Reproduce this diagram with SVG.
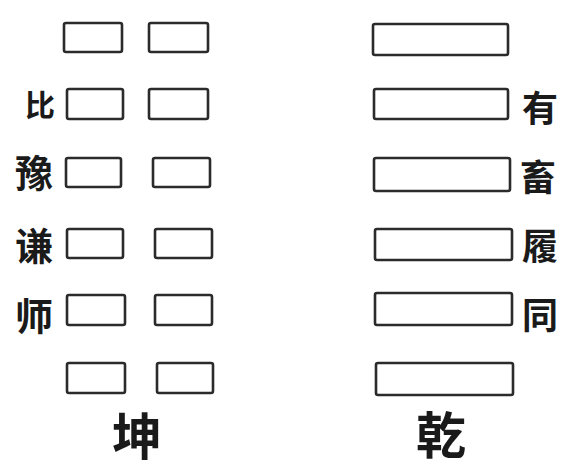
<svg xmlns="http://www.w3.org/2000/svg" width="564" height="472" viewBox="0 0 564 472">
<style>
.ln{fill:#fff;stroke:#2b2b2b;stroke-width:2.6;}
.lb{font-family:"Noto Sans CJK SC","Noto Sans CJK TC",sans-serif;font-weight:bold;fill:#1a1a1a;text-anchor:middle;dominant-baseline:central;}
</style>
<rect width="564" height="472" fill="#fff"/>
<g id="kun">
<rect class="ln" x="64" y="23" width="58" height="29" rx="2"/>
<rect class="ln" x="149" y="23" width="59" height="29" rx="2"/>
<rect class="ln" x="67" y="89" width="56" height="30" rx="2"/>
<rect class="ln" x="149" y="89" width="59" height="30" rx="2"/>
<rect class="ln" x="66" y="158" width="55" height="29" rx="2"/>
<rect class="ln" x="153" y="158" width="57" height="29" rx="2"/>
<rect class="ln" x="67" y="229" width="56" height="29" rx="2"/>
<rect class="ln" x="155" y="229" width="57" height="29" rx="2"/>
<rect class="ln" x="67" y="295" width="58" height="30" rx="2"/>
<rect class="ln" x="155" y="295" width="57" height="30" rx="2"/>
<rect class="ln" x="67" y="363" width="58" height="30" rx="2"/>
<rect class="ln" x="157" y="363" width="56" height="30" rx="2"/>
<text class="lb" x="137" y="433" font-size="50">坤</text>
</g>
<g id="qian">
<rect class="ln" x="373" y="24" width="135" height="31" rx="2"/>
<rect class="ln" x="374" y="89" width="134" height="30" rx="2"/>
<rect class="ln" x="374" y="158" width="136" height="33" rx="2"/>
<rect class="ln" x="375" y="229" width="137" height="31" rx="2"/>
<rect class="ln" x="375" y="293" width="137" height="32" rx="2"/>
<rect class="ln" x="376" y="363" width="137" height="32" rx="2"/>
<text class="lb" x="441" y="432" font-size="50">乾</text>
</g>
<g id="labels-left">
<text class="lb" x="40" y="103" font-size="30">比</text>
<text class="lb" x="34" y="170" font-size="38">豫</text>
<text class="lb" x="34" y="243" font-size="38">谦</text>
<text class="lb" x="34" y="313" font-size="38">师</text>
</g>
<g id="labels-right">
<text class="lb" x="540" y="106" font-size="36">有</text>
<text class="lb" x="538" y="175" font-size="36">畜</text>
<text class="lb" x="540" y="244" font-size="36">履</text>
<text class="lb" x="540" y="313" font-size="36">同</text>
</g>
<g id="connectors"></g>
</svg>
